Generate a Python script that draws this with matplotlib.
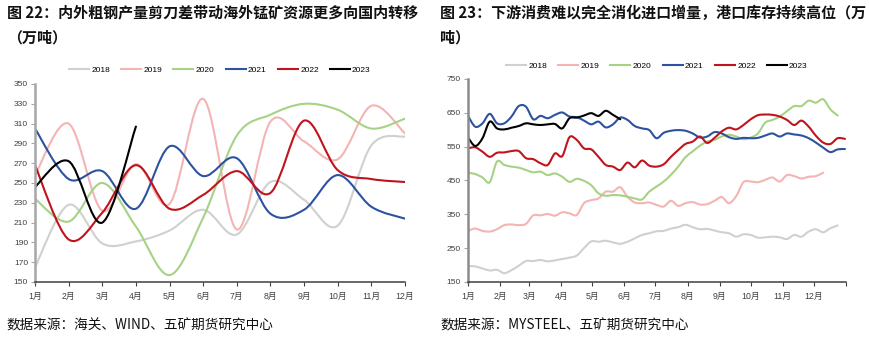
import numpy as np
import matplotlib
matplotlib.use("Agg")
import matplotlib.pyplot as plt
from matplotlib.path import Path
from matplotlib.patches import PathPatch
from matplotlib.lines import Line2D

plt.rcParams['font.family'] = ['Liberation Sans', 'Noto Sans CJK SC', 'DejaVu Sans']

years = ['2018', '2019', '2020', '2021', '2022', '2023']
colors = ['#d0d0d0', '#f4b4b4', '#a6d286', '#2c52a0', '#c0141c', '#000000']
month_labels = [f'{m}月' for m in range(1, 13)]

# 图22: 月度数据（万吨）
months = list(range(1, 13))
left_2018 = [165, 228, 189, 191, 202, 223, 198, 251, 233, 207, 288, 297]
left_2019 = [258, 310, 222, 269, 229, 335, 203, 312, 292, 274, 328, 300]
left_2020 = [234, 211, 250, 206, 157, 215, 298, 319, 330, 324, 305, 315]
left_2021 = [305, 254, 262, 224, 287, 257, 275, 219, 223, 258, 226, 214]
left_2022 = [268, 193, 220, 268, 224, 238, 262, 240, 313, 263, 254, 251]
left_2023 = [246, 272, 210, 307]

# 图23: 周度港口库存（万吨）
right_2018 = [197, 196, 190, 184, 186, 176, 185, 198, 212, 212, 215, 211, 214, 218,
              222, 228, 250, 270, 269, 272, 267, 263, 269, 279, 289, 294, 300, 301,
              308, 312, 319, 312, 306, 307, 302, 297, 294, 284, 291, 289, 281, 282,
              284, 282, 277, 289, 284, 299, 306, 297, 309, 317]
right_2019 = [301, 308, 301, 299, 306, 318, 320, 318, 322, 347, 347, 351, 346, 356,
              353, 348, 383, 392, 397, 417, 417, 430, 402, 385, 383, 385, 378, 373,
              390, 375, 383, 386, 379, 380, 390, 401, 383, 404, 445, 447, 445, 452,
              459, 447, 466, 463, 456, 461, 463, 473]
right_2020 = [473, 469, 459, 445, 506, 496, 491, 488, 481, 474, 476, 466, 471, 461,
              446, 455, 449, 436, 412, 405, 407, 406, 402, 397, 394, 417, 432, 447,
              467, 491, 519, 536, 553, 565, 570, 580, 585, 580, 572, 577, 589, 621,
              629, 639, 655, 670, 670, 686, 680, 690, 660, 642]
right_2021 = [641, 609, 619, 647, 619, 619, 639, 670, 668, 631, 641, 634, 644, 651,
              639, 637, 627, 616, 624, 607, 616, 636, 629, 611, 604, 599, 575, 591,
              597, 599, 597, 589, 577, 580, 593, 589, 578, 573, 576, 575, 576, 583,
              589, 580, 589, 586, 583, 575, 562, 547, 534, 542, 543]
right_2022 = [545, 548, 535, 520, 532, 533, 537, 537, 516, 513, 501, 496, 530, 522,
              578, 570, 545, 542, 520, 496, 491, 481, 503, 489, 509, 494, 491, 498,
              520, 540, 558, 565, 580, 561, 576, 595, 606, 601, 614, 631, 643, 645,
              644, 639, 629, 614, 627, 609, 582, 562, 558, 575, 573]
right_2023 = [577, 552, 575, 624, 604, 601, 606, 611, 619, 616, 614, 616, 617, 604,
              634, 636, 642, 649, 641, 656, 644, 631]

month_start_days = [0, 31, 59, 90, 120, 151, 181, 212, 243, 273, 304, 334]


def smooth_path(x, y):
    # Excel-style smoothed line: cubic Bezier through every point
    pts = np.column_stack([x, y]).astype(float)
    n = len(pts)
    verts = [pts[0]]
    codes = [Path.MOVETO]
    for i in range(n - 1):
        p0 = pts[i - 1] if i > 0 else pts[i]
        p1 = pts[i]
        p2 = pts[i + 1]
        p3 = pts[i + 2] if i + 2 < n else pts[i + 1]
        verts += [p1 + (p2 - p0) / 6, p2 - (p3 - p1) / 6, p2]
        codes += [Path.CURVE4] * 3
    return Path(verts, codes)


def draw_series(ax, xs, series):
    for vals, c in zip(series, colors):
        x = xs[:len(vals)]
        ax.add_patch(PathPatch(smooth_path(x, vals), facecolor='none', edgecolor=c,
                               lw=1.5, transform=ax.transData, capstyle='round',
                               joinstyle='round'))


def style_axes(ax):
    for s in ['top', 'right']:
        ax.spines[s].set_visible(False)
    ax.spines['left'].set_color('#a6a6a6')
    ax.spines['left'].set_linewidth(1.8)
    ax.spines['bottom'].set_color('#404040')
    ax.spines['bottom'].set_linewidth(1.1)
    ax.tick_params(axis='y', length=3, width=0.8, color='#a6a6a6', labelsize=6,
                   labelcolor='#404040', pad=2)
    ax.tick_params(axis='x', length=3, width=0.8, color='#404040', labelsize=6.3,
                   labelcolor='#404040', pad=4)


def add_legend(ax, y):
    handles = [Line2D([], [], color=c, lw=1.5) for c in colors]
    ax.legend(handles, years, loc='lower center', bbox_to_anchor=(0.5, 1.0 + y),
              ncol=6, frameon=False, fontsize=6, handlelength=2.4,
              handletextpad=0.3, columnspacing=1.3, borderaxespad=0)


fig = plt.figure(figsize=(8.7, 3.39), dpi=100)
W, H = 870, 339

# 左图
ax1 = fig.add_axes([35 / W, (H - 282) / H, 370 / W, 198 / H])
draw_series(ax1, np.array(months), [left_2018, left_2019, left_2020,
                                    left_2021, left_2022, left_2023])
ax1.set_xlim(1, 12)
ax1.set_ylim(150, 350)
ax1.set_yticks(range(150, 351, 20))
ax1.set_xticks(months)
ax1.set_xticklabels(month_labels)
style_axes(ax1)
add_legend(ax1, 0.035)

# 右图
ax2 = fig.add_axes([468 / W, (H - 282) / H, 378 / W, 203 / H])
weeks = np.arange(60) * 7
draw_series(ax2, weeks, [right_2018, right_2019, right_2020,
                         right_2021, right_2022, right_2023])
ax2.set_xlim(0, 365)
ax2.set_ylim(150, 750)
ax2.set_yticks(range(150, 751, 100))
ax2.set_xticks(month_start_days + [365])
ax2.set_xticklabels(month_labels + [''])
style_axes(ax2)
ax2.spines['left'].set_color('#8c8c8c')
add_legend(ax2, 0.03)

# 标题与来源
tkw = dict(fontsize=10.8, fontweight='bold', color='#111111', va='center', ha='left',
           family=['Noto Sans CJK SC', 'DejaVu Sans'])
fig.text(7 / W, 1 - 12.5 / H, '图 22：内外粗钢产量剪刀差带动海外锰矿资源更多向国内转移', **tkw)
fig.text(7 / W, 1 - 38 / H, '（万吨）', **tkw)
fig.text(440 / W, 1 - 12.5 / H, '图 23：下游消费难以完全消化进口增量，港口库存持续高位（万', **tkw)
fig.text(440 / W, 1 - 38 / H, '吨）', **tkw)

skw = dict(fontsize=9.8, color='#111111', va='center', ha='left',
           family=['Noto Sans CJK SC', 'DejaVu Sans'])
fig.text(6 / W, 1 - 325 / H, '数据来源：海关、WIND、五矿期货研究中心', **skw)
fig.text(440 / W, 1 - 325 / H, '数据来源：MYSTEEL、五矿期货研究中心', **skw)

fig.savefig('out.png', dpi=100, facecolor='white')
